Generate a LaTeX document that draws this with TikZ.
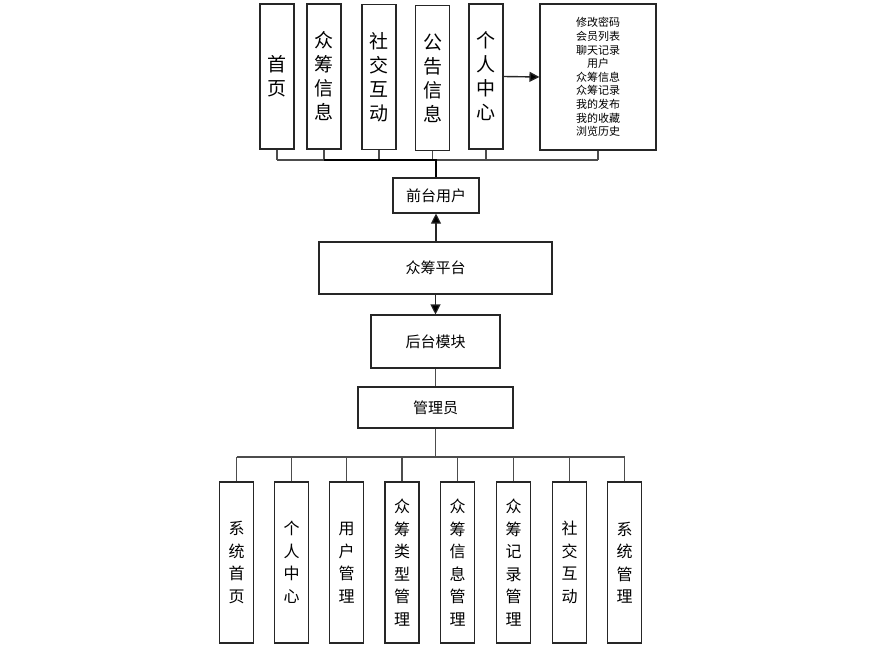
\documentclass[tikz,border=0pt]{standalone}
\usepackage{fontspec}
\setmainfont{Noto Sans CJK SC}
\usetikzlibrary{arrows.meta}
\begin{document}
\begin{tikzpicture}[x=1pt,y=-1pt,
  box/.style={draw=black!85,line width=1.1pt,inner sep=0pt,align=center},
  topbox/.style={box,minimum width=34pt,minimum height=145pt,font=\fontsize{19}{24}\selectfont},
  botbox/.style={box,minimum width=34pt,minimum height=161pt,font=\fontsize{16}{22.5}\selectfont},
  midbox/.style={box,font=\fontsize{15}{18}\selectfont},
  link/.style={draw=black!70,line width=1.1pt},
  strong/.style={draw=black,line width=1.5pt},
  tip/.style={-{Triangle[length=10pt,width=10pt,fill=black]},draw=black!85,line width=1.1pt}]
\useasboundingbox (0,0) rectangle (880,653);
% top row
\node[topbox] (t1) at (277,76.5) {首\\页};
\node[topbox] (t2) at (324,76.5) {众\\筹\\信\\息};
\node[topbox] (t3) at (379,77) {社\\交\\互\\动};
\node[topbox] (t4) at (432.5,78) {公\\告\\信\\息};
\node[topbox] (t5) at (486,76.5) {个\\人\\中\\心};
\node[box,minimum width=116pt,minimum height=146pt,font=\fontsize{11}{13.6}\selectfont] (info) at (598,77)
  {修改密码\\会员列表\\聊天记录\\用户\\众筹信息\\众筹记录\\我的发布\\我的收藏\\浏览历史};
\draw[tip,line width=1.4pt] (t5.east) -- (info.west);
% middle column
\node[midbox,minimum width=86pt,minimum height=35pt] (front) at (436,195.5) {前台用户};
\node[midbox,minimum width=233pt,minimum height=52pt] (plat) at (435.5,268) {众筹平台};
\node[midbox,minimum width=129pt,minimum height=53pt] (back) at (435.5,341.5) {后台模块};
\node[midbox,minimum width=155pt,minimum height=41pt] (admin) at (435.5,407.5) {管理员};
% top bus
\coordinate (tbus) at (0,160);
\foreach \n in {t1,t2,t3,t4,t5,info}{\draw[link] (\n.south) -- (\n.south |- tbus);}
\draw[link] (t1.south |- tbus) -- (info.south |- tbus);
\draw[strong] (t2.south |- tbus) -- (front.north |- tbus) -- (front.north);
\draw[tip] (plat.north -| front.south) -- (front.south);
\draw[tip] (plat.south -| back.north) -- (back.north);
\draw[link] (back.south) -- (back.south -| admin.north) -- (admin.north);
% bottom row
\node[botbox] (b1) at (236.5,562.5) {系\\统\\首\\页};
\node[botbox] (b2) at (291.5,562.5) {个\\人\\中\\心};
\node[botbox] (b3) at (346.5,562.5) {用\\户\\管\\理};
\node[botbox] (b4) at (402,562.5) {众\\筹\\类\\型\\管\\理};
\node[botbox] (b5) at (457.5,562.5) {众\\筹\\信\\息\\管\\理};
\node[botbox] (b6) at (513.5,562.5) {众\\筹\\记\\录\\管\\理};
\node[botbox] (b7) at (569.5,562.5) {社\\交\\互\\动};
\node[botbox] (b8) at (624.5,562.5) {系\\统\\管\\理};
\coordinate (bbus) at (0,457);
\draw[link] (admin.south) -- (admin.south |- bbus);
\draw[link] (b1.north |- bbus) -- (b8.north |- bbus);
\foreach \n in {b1,b2,b3,b4,b5,b6,b7,b8}{\draw[link] (\n.north) -- (\n.north |- bbus);}
\end{tikzpicture}
\end{document}
